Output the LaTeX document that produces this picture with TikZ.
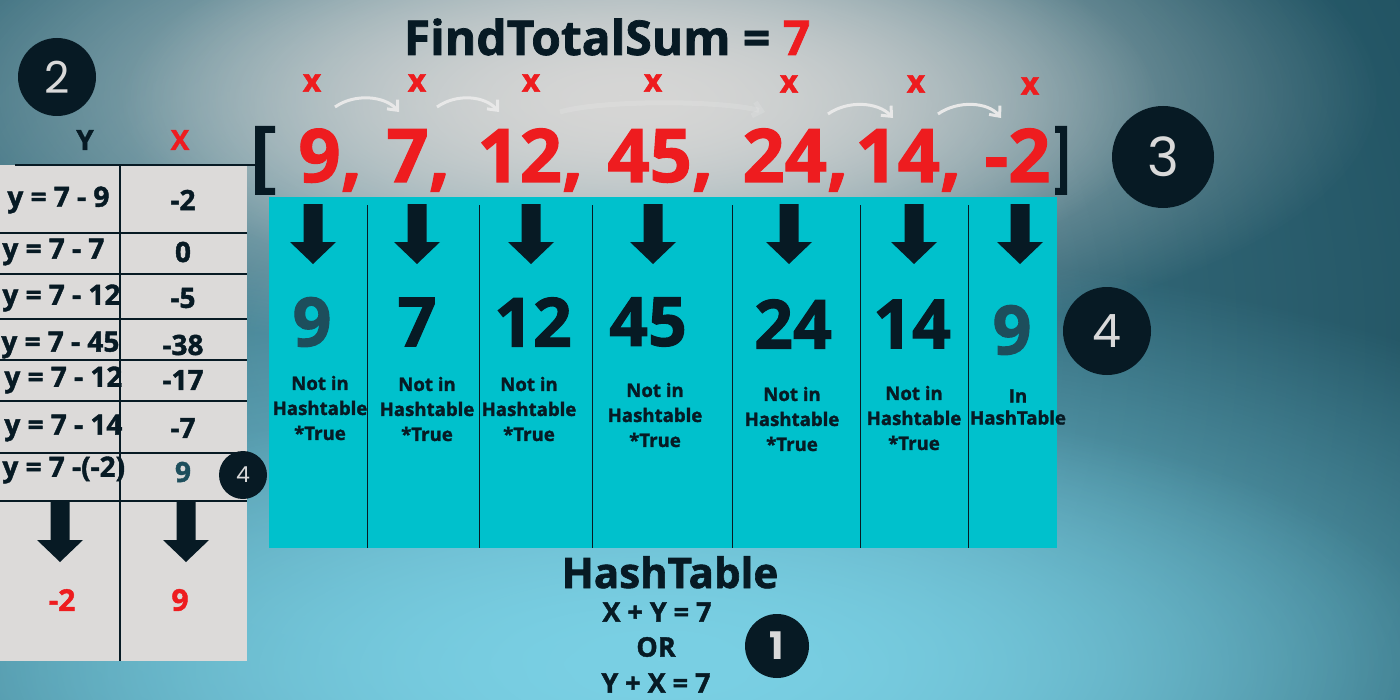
\documentclass[tikz,border=0pt]{standalone}
\usepackage{fontspec}
\setmainfont{Open Sans}[BoldFeatures={FakeBold=1.5}]
\newfontfamily\circfont{Poppins}
\usetikzlibrary{fadings,arrows.meta}
\tikzfading[name=myfadeout, inner color=transparent!0, outer color=transparent!100]
\definecolor{navy}{HTML}{071A24}
\definecolor{redc}{HTML}{EE1C1F}
\definecolor{cyanbox}{HTML}{00C1CC}
\definecolor{tablegray}{HTML}{DCDAD9}
\definecolor{tealtxt}{HTML}{1D4E5C}
\definecolor{circtxt}{HTML}{D9D9D9}
\definecolor{bgdark}{HTML}{1A4A59}
\definecolor{bgmid}{HTML}{4C8798}
\definecolor{bggray}{HTML}{D6D6D5}
\definecolor{bglight}{HTML}{7AD0E4}
\definecolor{arrw}{HTML}{E8E8E8}
\begin{document}
\begin{tikzpicture}[x=0.5pt,y=-0.5pt,
  circ/.style={circle,fill=navy,text=circtxt,inner sep=0pt,font=\circfont},
  tline/.style={draw=navy,line width=0.7pt},
  divline/.style={draw=navy,line width=0.5pt},
  tabtxt/.style={text=navy,font=\bfseries\fontsize{14}{16}\selectfont,inner sep=0pt},
  eqtxt/.style={text=navy,font=\bfseries\fontsize{13.5}{15}\selectfont,inner sep=0pt},
  bignum/.style={text=navy,font=\bfseries\fontsize{34}{36}\selectfont,inner sep=0pt},
  lab/.style={text=navy,align=center,font=\bfseries\fontsize{9.3}{12.5}\selectfont,inner sep=0pt},
  rednum/.style={text=redc,font=\bfseries\fontsize{37}{40}\selectfont,inner sep=0pt,anchor=base west},
  xmark/.style={text=redc,font=\bfseries\fontsize{16}{18}\selectfont,inner sep=0pt},
  curv/.style={draw=arrw,line width=1.5pt,-{Straight Barb[length=4pt,width=7pt]}},
  darr/.pic={\fill[navy] (-9.5,0) -- (9.5,0) -- (9.5,38) -- (23,38) -- (0,60) -- (-23,38) -- (-9.5,38) -- cycle;}
]
\useasboundingbox (0,0) rectangle (1400,700);
% background
\fill[bgdark] (0,0) rectangle (1400,700);
\fill[bgmid,path fading=myfadeout] (400,340) ellipse (1300 and 1100);
\fill[bggray,path fading=myfadeout] (620,95) ellipse (760 and 270);
\fill[bggray,path fading=myfadeout] (640,105) ellipse (520 and 200);
\fill[bglight,path fading=myfadeout] (660,660) ellipse (1150 and 420);
\fill[bglight,path fading=myfadeout] (660,670) ellipse (800 and 280);

% title
\node[anchor=base,text=navy,font=\bfseries\fontsize{24}{28}\selectfont,inner sep=0pt] (title) at (607,55) {FindTotalSum = {\color{redc}7}};

% left table
\fill[tablegray] (0,165) rectangle (247,661);
\draw[tline] (15,165) -- (257,165);
\foreach \yy in {233,274,319,360,401,453,501} \draw[tline] (0,\yy) -- (247,\yy);
\draw[tline] (120,165) -- (120,661);
\node[tabtxt] (hy) at (85,140) {Y};
\node[tabtxt,text=redc] (hx) at (180,140) {X};
\foreach \i/\xx/\yy/\t/\v in {1/7/200/{y = 7 - 9}/{-2},2/2/252/{y = 7 - 7}/0,3/2/298/{y = 7 - 12}/{-5},4/1/345/{y = 7 - 45}/{-38},5/4/380/{y = 7 - 12}/{-17},6/4/428/{y = 7 - 14}/{-7}}{
  \node[tabtxt,anchor=west] (ty\i) at (\xx,\yy) {\t};
  \node[tabtxt] (tv\i) at (183,\yy) {\v};
}
\node[tabtxt,anchor=west] (ty7) at (2,470) {y = 7 -(-2)};
\node[tabtxt,text=tealtxt] (tv7) at (183,472) {9};
\pic at (60,502) {darr};
\pic at (186,502) {darr};
\node[tabtxt,text=redc,font=\bfseries\fontsize{15}{17}\selectfont] (ry) at (62,600) {-2};
\node[tabtxt,text=redc,font=\bfseries\fontsize{15}{17}\selectfont] (rx) at (180,600) {9};
\node[circ,minimum size=24pt,font=\circfont\fontsize{11}{12}\selectfont] (c4s) at (243,475) {4};

% cyan hashtable area
\fill[cyanbox] (269,197) rectangle (1057,548);
\foreach \xx in {367,479,592,732,860,968} \draw[divline] (\xx,205) -- (\xx,548);
\foreach \xx in {313,417,531,653,789,914,1020} \pic at (\xx,204) {darr};
\node[bignum,text=tealtxt] (n1) at (312,322) {9};
\node[bignum] (n2) at (417,322) {7};
\node[bignum] (n3) at (533,322) {12};
\node[bignum] (n4) at (648,322) {45};
\node[bignum] (n5) at (793,324) {24};
\node[bignum] (n6) at (912,324) {14};
\node[bignum,text=tealtxt] (n7) at (1012,330) {9};
\node[lab] (l1) at (320,408) {Not in\\Hashtable\\*True};
\node[lab] (l2) at (427,409) {Not in\\Hashtable\\*True};
\node[lab] (l3) at (529,409) {Not in\\Hashtable\\*True};
\node[lab] (l4) at (655,415) {Not in\\Hashtable\\*True};
\node[lab] (l5) at (792,419) {Not in\\Hashtable\\*True};
\node[lab] (l6) at (914,418) {Not in\\Hashtable\\*True};
\node[lab,font=\bfseries\fontsize{9.3}{11}\selectfont] (l7) at (1018,407) {In\\HashTable};

% array
\fill[navy] (255,126) -- (275,126) -- (275,133) -- (265,133) -- (265,188) -- (275,188) -- (275,195) -- (255,195) -- cycle;
\fill[navy] (1067,126) -- (1055,126) -- (1055,133) -- (1060,133) -- (1060,188) -- (1055,188) -- (1055,195) -- (1067,195) -- cycle;
\node[rednum] (a1) at (298,182) {9,};
\node[rednum] (a2) at (386,182) {7,};
\node[rednum] (a3) at (477,182) {12,};
\node[rednum] (a4) at (607,182) {45,};
\node[rednum] (a5) at (742,182) {24,};
\node[rednum] (a6) at (855,182) {14,};
\node[rednum] (a7) at (984,182) {-2};
\node[xmark] (x1) at (312,83) {x};
\node[xmark] (x2) at (417,83) {x};
\node[xmark] (x3) at (531,83) {x};
\node[xmark] (x4) at (653,83) {x};
\node[xmark] (x5) at (789,84) {x};
\node[xmark] (x6) at (916,84) {x};
\node[xmark] (x7) at (1030,86) {x};
% curved arrows
\coordinate (s1) at (335,107); \coordinate (e1) at (399,112);
\coordinate (s2) at (437,107); \coordinate (e2) at (499,112);
\coordinate (s3) at (560,112); \coordinate (e3) at (765,112);
\coordinate (s4) at (828,114); \coordinate (e4) at (893,118);
\coordinate (s5) at (938,114); \coordinate (e5) at (1001,118);
\draw[curv] (s1) .. controls (355,93) and (385,96) .. (e1);
\draw[curv] (s2) .. controls (457,93) and (485,96) .. (e2);
\draw[curv,draw=white,opacity=0.12,line width=2.5pt] (s3) .. controls (600,100) and (720,100) .. (e3);
\draw[curv] (s4) .. controls (848,100) and (878,102) .. (e4);
\draw[curv] (s5) .. controls (958,100) and (988,102) .. (e5);

% circles
\node[circ,minimum size=39pt,font=\circfont\fontsize{22}{24}\selectfont] (c2) at (57,77) {2};
\node[circ,minimum size=51pt,font=\circfont\fontsize{27}{30}\selectfont] (c3) at (1163,157) {3};
\node[circ,minimum size=44pt,font=\circfont\fontsize{23}{26}\selectfont] (c4) at (1107,331) {4};
\node[circ,minimum size=32pt,font=\circfont\bfseries\fontsize{19}{22}\selectfont] (c1) at (777,646) {1};

% bottom text
\node[anchor=base,text=navy,font=\bfseries\fontsize{21}{24}\selectfont,inner sep=0pt] (ht) at (670,588) {HashTable};
\node[eqtxt] (eq1) at (657,612) {X + Y = 7};
\node[eqtxt] (eq2) at (656,647) {OR};
\node[eqtxt] (eq3) at (656,683) {Y + X = 7};
\end{tikzpicture}
\end{document}
